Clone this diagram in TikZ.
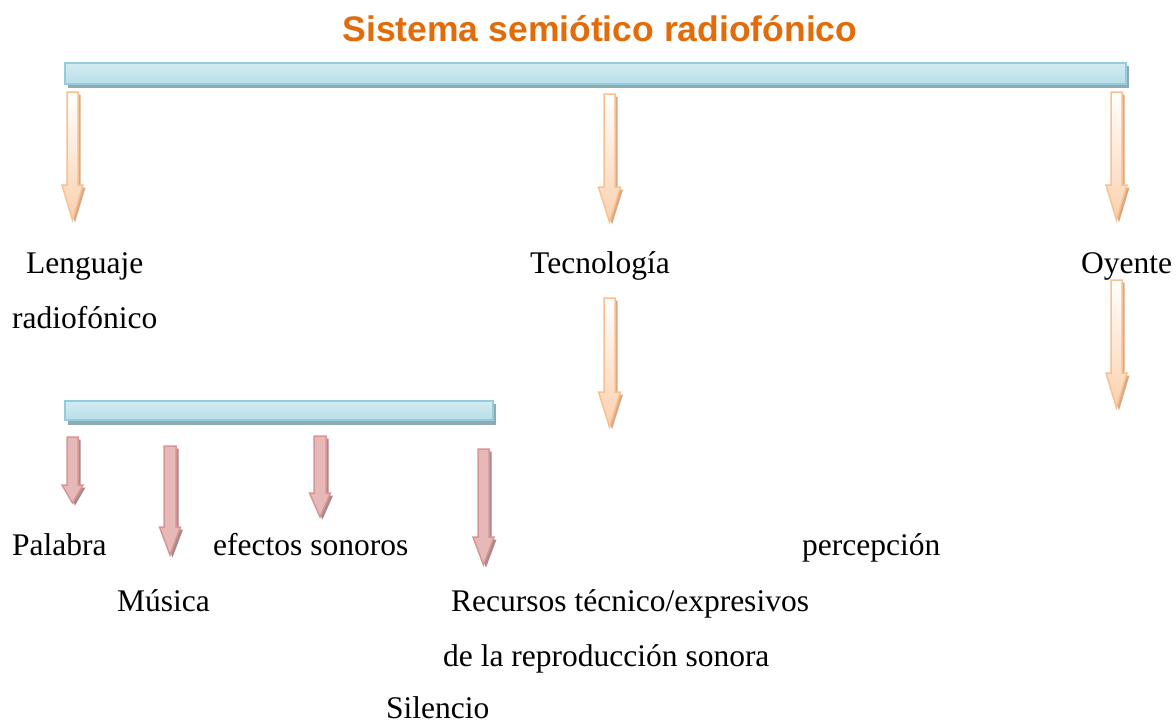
\documentclass[tikz,border=0pt]{standalone}
\usepackage{fontspec}
\setmainfont{Liberation Serif}
\newfontfamily\titlefont{Liberation Sans}
\definecolor{titleorange}{HTML}{E36C0A}
\definecolor{barborder}{HTML}{93CDDD}
\definecolor{barfill}{HTML}{B7DEE8}
\definecolor{barshadow}{HTML}{8FABB2}
\definecolor{orborder}{HTML}{FAC090}
\definecolor{orfill}{HTML}{FBD0AC}
\definecolor{orshadow}{HTML}{D9A985}
\definecolor{pkborder}{HTML}{D99594}
\definecolor{pkfill}{HTML}{E6B9B8}
\definecolor{pkshadow}{HTML}{A8898A}
\tikzset{
  lbl/.style={anchor=base west, inner sep=0pt, font=\fontsize{31.5}{36}\selectfont},
  titlelbl/.style={anchor=base, inner sep=0pt, font=\titlefont\bfseries\fontsize{35.5}{40}\selectfont, text=titleorange},
  barbox/.style={draw=barborder, line width=1.5pt, top color=white!40!barfill, middle color=white, bottom color=barfill},
  orbody/.style={draw=orborder, line width=1.5pt, top color=white, bottom color=orfill},
  pkbody/.style={draw=pkborder, line width=1.5pt, left color=pkfill, middle color=white!85!pkfill, right color=pkfill},
  orshade/.style={fill=orshadow},
  pkshade/.style={fill=pkshadow},
}
% #1 kind (or/pk), #2 x centre, #3 top, #4 head start, #5 tip, #6 half shaft, #7 half head
\newcommand\blockarrow[7]{%
  \path[#1shade] ({#2-#6+2.5},{#3+2.5}) -- ({#2+#6+2.5},{#3+2.5}) -- ({#2+#6+2.5},{#4+2.5}) -- ({#2+#7+2.5},{#4+2.5})
     -- ({#2+2.5},{#5+2.5}) -- ({#2-#7+2.5},{#4+2.5}) -- ({#2-#6+2.5},{#4+2.5}) -- cycle;
  \path[#1body] ({#2-#6},#3) -- ({#2+#6},#3) -- ({#2+#6},#4) -- ({#2+#7},#4)
     -- (#2,#5) -- ({#2-#7},#4) -- ({#2-#6},#4) -- cycle;
}
\begin{document}
\begin{tikzpicture}[x=1pt,y=-1pt]
\useasboundingbox[fill=white] (0,0) rectangle (1176,724);
% title
\node[titlelbl] (title) at (600,41) {Sistema semiótico radiofónico};
% top bar
\fill[barshadow] (68,66) rectangle (1129,88);
\path[barbox] (65,63) rectangle (1126,84);
% orange arrows
\blockarrow{or}{72.5}{92}{185}{220}{5.5}{10.5}
\blockarrow{or}{609.5}{94}{187}{222}{5.5}{11}
\blockarrow{or}{1116.5}{92}{185}{220}{5.5}{10.5}
\blockarrow{or}{609.5}{298}{392}{427}{5.5}{11}
\blockarrow{or}{1116.5}{280}{373}{408}{5.5}{10.5}
% second bar
\fill[barshadow] (68,404) rectangle (496,425);
\path[barbox] (65,401) rectangle (493,420);
% pink arrows
\blockarrow{pk}{72.5}{437}{485}{503}{5.5}{10.5}
\blockarrow{pk}{170}{446}{527}{555}{6}{10.5}
\blockarrow{pk}{320}{436}{493}{517}{6}{10.5}
\blockarrow{pk}{483.5}{449}{537}{565}{5.5}{10.5}
% labels
\node[lbl] (leng) at (26,273) {Lenguaje};
\node[lbl] (radio) at (12,328) {radiofónico};
\node[lbl] (tecno) at (530,273) {Tecnología};
\node[lbl] (oyente) at (1081,273) {Oyente};
\node[lbl] (palabra) at (12,555) {Palabra};
\node[lbl] (efectos) at (213,555) {efectos sonoros};
\node[lbl] (percep) at (802,555) {percepción};
\node[lbl] (musica) at (117,611) {Música};
\node[lbl] (recursos) at (451,611) {Recursos técnico/expresivos};
\node[lbl] (repro) at (443,666) {de la reproducción sonora};
\node[lbl] (silencio) at (386,718) {Silencio};
\end{tikzpicture}
\end{document}
